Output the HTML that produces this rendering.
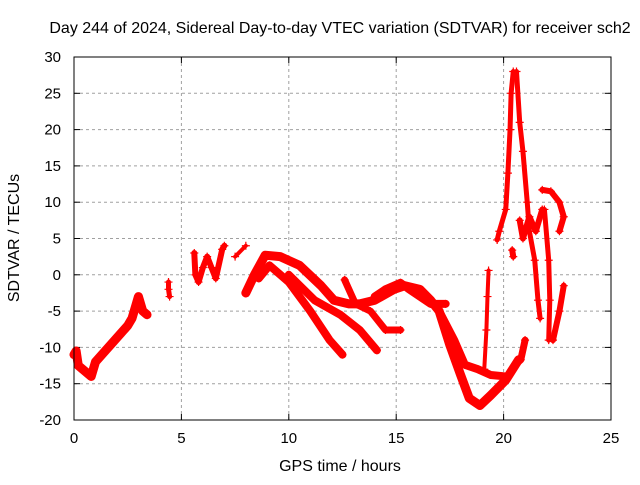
<!DOCTYPE html>
<html><head><meta charset="utf-8"><style>
body{margin:0;background:#fff;}
svg text{font-family:"Liberation Sans",sans-serif;font-size:15px;fill:#000;}
svg text.big{font-size:16px;}
</style></head><body>
<svg id="chart" width="640" height="480" xmlns="http://www.w3.org/2000/svg">
<text class="big" x="340" y="33" text-anchor="middle">Day 244 of 2024, Sidereal Day-to-day VTEC variation (SDTVAR) for receiver sch2</text>
<text class="big" x="340" y="471" text-anchor="middle">GPS time / hours</text>
<text class="big" transform="translate(19,238) rotate(-90)" text-anchor="middle">SDTVAR / TECUs</text>
<g id="grid"></g><g id="marks"></g>
<rect x="74" y="57" width="537" height="363" fill="none" stroke="#000" stroke-width="1"/>
</svg>
<script>
const xTicks=[0,5,10,15,20,25];
const yTicks=[-20,-15,-10,-5,0,5,10,15,20,25,30];
const trackA=[[0,-11],[0.1,-10.5],[0.2,-12.5],[0.4,-13],[0.6,-13.5],[0.8,-14],[1,-12],[1.3,-11],[1.6,-10],[1.9,-9],[2.2,-8],[2.5,-7],[2.7,-6],[2.9,-4],[3.0,-3],[3.2,-5],[3.4,-5.5]];
const trackB=[[4.4,-1],[4.4,-2],[4.45,-3]];
const trackC=[[5.6,3],[5.65,0],[5.8,-1],[6.0,1],[6.2,2.5],[6.4,1],[6.6,-0.5],[6.9,3.5],[7.0,4]];
const trackC2=[[7.5,2.5],[8.0,4]];
const trackD=[[8.0,-2.5],[8.4,0],[8.9,2.7],[9.6,2.5],[10.5,1.3],[11.5,-1.5],[12.1,-3.5],[12.8,-4],[13.3,-4],[14.0,-3.5],[14.9,-2],[15.4,-1.5],[16.1,-2],[16.6,-3.5],[17.0,-5],[17.5,-9.7],[18.0,-13.8],[18.4,-17],[18.9,-18],[19.4,-16.6],[20.1,-14.5],[20.7,-11.7]];
const trackE=[[8.6,-0.5],[9.1,1.3],[10.0,-1],[11.0,-5],[11.9,-9],[12.5,-11]];
const trackF=[[10.0,0],[11.2,-3.5],[12.4,-5.5],[13.3,-7.6],[14.1,-10.4]];
const trackG=[[12.6,-0.7],[13.1,-4],[13.8,-5],[14.5,-7.6],[15.2,-7.6]];
const trackH=[[14.0,-3],[14.5,-2],[15.2,-1.1],[15.6,-2],[16.6,-4],[17.3,-4]];
const trackI=[[17.0,-5],[17.7,-9],[18.2,-12.4],[18.8,-13],[19.4,-13.8],[20.1,-14]];
const trackJ=[[19.3,0.6],[19.25,-3],[19.2,-7.6],[19.1,-13]];
const trackK=[[19.7,4.8],[19.8,6],[20.1,9],[20.2,14],[20.3,20],[20.35,25],[20.45,28]];
const trackL=[[20.6,28],[20.75,21],[20.9,17],[21.1,10],[21.2,6],[21.45,2],[21.6,-3.5],[21.7,-6]];
const trackM=[[21.8,11.7],[22.2,11.5],[22.6,10],[22.8,8],[22.6,6]];
const trackN=[[20.75,7.5],[20.9,5],[21.2,8],[21.5,6],[21.8,9]];
const trackO=[[21.9,9],[22.1,2],[22.15,-3.5],[22.1,-9]];
const trackP=[[22.3,-9],[22.6,-5],[22.8,-1.5]];
const trackQ=[[21.0,-9],[20.8,-11.7],[20.5,-12.5]];
const trackR=[[20.4,3.4],[20.45,2.5]];
const tracks=[trackA,trackB,trackC,trackC2,trackD,trackE,trackF,trackG,trackH,trackI,trackJ,trackK,trackL,trackM,trackN,trackO,trackP,trackQ,trackR];
const widths=[9,5,6,4,9,8,8,7,8,8,4,5,5,6,6,5,6,7,6];
const X0=74,X1=611,Y0=420,Y1=57;
function xs(t){return X0+(t-0)/(25-0)*(X1-X0);}
function ys(v){return Y0-(v+20)/(50)*(Y0-Y1);}
const NS="http://www.w3.org/2000/svg";
const grid=document.getElementById('grid'),marks=document.getElementById('marks');
function mk(tag,attrs,parent){const e=document.createElementNS(NS,tag);for(const k in attrs)e.setAttribute(k,attrs[k]);parent.appendChild(e);return e;}
xTicks.forEach(t=>{const x=xs(t);
 if(t>0&&t<25){const g=mk('line',{x1:x,x2:x,y1:Y1,y2:Y0,stroke:'#a0a0a0','stroke-dasharray':'3,3'},grid);
 
 }
 mk('line',{x1:x,x2:x,y1:Y0,y2:Y0-6,stroke:'#000'},grid);mk('line',{x1:x,x2:x,y1:Y1,y2:Y1+6,stroke:'#000'},grid);
 const tx=mk('text',{x:x,y:Y0+23,'text-anchor':'middle'},grid);tx.textContent=t;
 
 });
yTicks.forEach(v=>{const y=ys(v);
 if(v>-20&&v<30){const g=mk('line',{x1:X0,x2:X1,y1:y,y2:y,stroke:'#a0a0a0','stroke-dasharray':'3,3'},grid);
 
 }
 mk('line',{x1:X0,x2:X0+6,y1:y,y2:y,stroke:'#000'},grid);mk('line',{x1:X1,x2:X1-6,y1:y,y2:y,stroke:'#000'},grid);
 const tx=mk('text',{x:X0-13,y:y+5,'text-anchor':'end'},grid);tx.textContent=v;
 
 });
tracks.forEach((tr,i)=>{
 const pl=mk('polyline',{points:tr.map(p=>xs(p[0])+','+ys(p[1])).join(' '),fill:'none',stroke:'#ff0000','stroke-width':widths[i],'stroke-linejoin':'round','stroke-linecap':'round'},marks);
 
 
 tr.forEach(p=>{const x=xs(p[0]),y=ys(p[1]);
  const m=mk('path',{d:`M${x-4},${y}H${x+4}M${x},${y-4}V${y+4}`,stroke:'#ff0000','stroke-width':1.2},marks);
  
  });
});
</script>
</body></html>
